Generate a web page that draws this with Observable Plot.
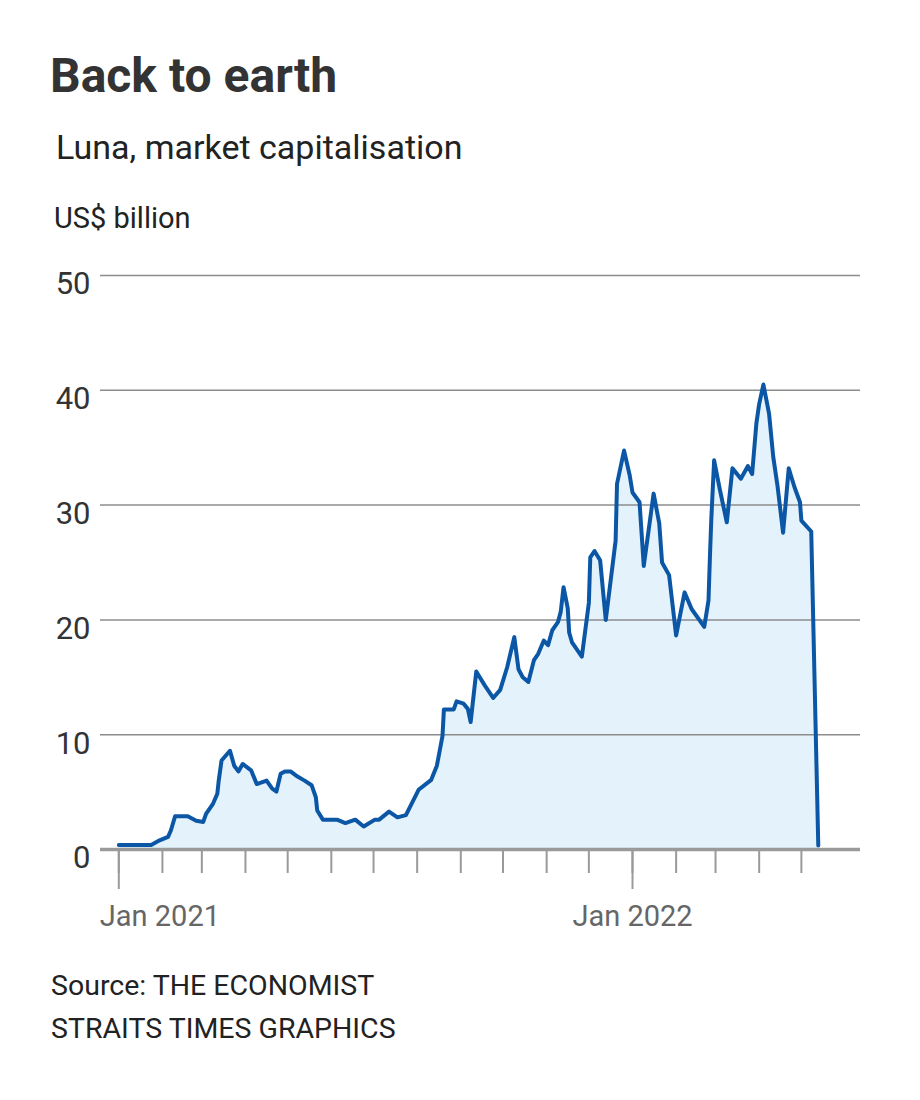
<!DOCTYPE html>
<html>
<head>
<meta charset="utf-8">
<script src="https://cdn.jsdelivr.net/npm/d3@7"></script>
<script src="https://cdn.jsdelivr.net/npm/@observablehq/plot@0.6"></script>
<style>
  html, body { margin: 0; padding: 0; background: #fff; }
  #wrap { position: relative; width: 920px; height: 1100px; font-family: Roboto, "Noto Sans", sans-serif; }
  .t { position: absolute; white-space: nowrap; line-height: 1; }
  #title { left: 50px; top: 52px; font-size: 48px; font-weight: 700; color: #333; }
  #subtitle { left: 56px; top: 130px; font-size: 34px; color: #222; }
  #unit { left: 54px; top: 204px; font-size: 29px; color: #222; }
  #chart { position: absolute; left: 0; top: 250px; }
  #source { position: absolute; left: 51px; top: 964px; font-size: 28.5px; line-height: 43px; color: #222; white-space: nowrap; }
</style>
</head>
<body>
<div id="wrap">
  <div class="t" id="title">Back to earth</div>
  <div class="t" id="subtitle">Luna, market capitalisation</div>
  <div class="t" id="unit">US$ billion</div>
  <div id="chart"></div>
  <div id="source">Source: THE ECONOMIST<br>STRAITS TIMES GRAPHICS</div>
</div>
<script>
const dates = ["2021-01-01","2021-01-24","2021-01-30","2021-02-05","2021-02-07","2021-02-10","2021-02-19","2021-02-25","2021-03-02","2021-03-04",
"2021-03-09","2021-03-12","2021-03-13","2021-03-15","2021-03-21","2021-03-24","2021-03-27","2021-03-30","2021-04-05","2021-04-09",
"2021-04-16","2021-04-20","2021-04-23","2021-04-26","2021-04-29","2021-05-03","2021-05-08","2021-05-13","2021-05-18","2021-05-21",
"2021-05-22","2021-05-26","2021-06-05","2021-06-11","2021-06-18","2021-06-24","2021-07-02","2021-07-05","2021-07-12","2021-07-18",
"2021-07-24","2021-08-02","2021-08-11","2021-08-15","2021-08-17","2021-08-19","2021-08-20","2021-08-27","2021-08-29","2021-09-03",
"2021-09-06","2021-09-08","2021-09-12","2021-09-18","2021-09-24","2021-09-29","2021-10-04","2021-10-09","2021-10-12","2021-10-15",
"2021-10-19","2021-10-23","2021-10-26","2021-10-30","2021-11-02","2021-11-05","2021-11-09","2021-11-11","2021-11-13","2021-11-16",
"2021-11-17","2021-11-19","2021-11-26","2021-12-01","2021-12-02","2021-12-05","2021-12-09","2021-12-13","2021-12-20","2021-12-21",
"2021-12-26","2021-12-30","2022-01-01","2022-01-06","2022-01-09","2022-01-16","2022-01-20","2022-01-22","2022-01-27","2022-02-01",
"2022-02-07","2022-02-12","2022-02-21","2022-02-24","2022-02-25","2022-02-26","2022-02-28","2022-03-04","2022-03-09","2022-03-13",
"2022-03-19","2022-03-24","2022-03-27","2022-03-30","2022-04-01","2022-04-04","2022-04-08","2022-04-11","2022-04-14","2022-04-18",
"2022-04-22","2022-04-26","2022-04-30","2022-05-01","2022-05-08","2022-05-13"];

const values = [0.4,0.4,0.8,1.1,1.65,2.9,2.9,2.5,2.4,3.1,
4.0,4.85,6.0,7.75,8.6,7.3,6.8,7.45,6.9,5.7,
6.0,5.3,5.05,6.6,6.8,6.8,6.35,6.0,5.6,4.55,
3.4,2.6,2.6,2.3,2.6,2.0,2.6,2.6,3.3,2.8,
3.0,5.2,6.07,7.3,8.6,9.9,12.2,12.2,12.9,12.7,
12.25,11.1,15.5,14.3,13.2,13.9,15.9,18.5,15.7,15.0,
14.6,16.5,17.05,18.2,17.8,19.1,19.8,20.7,22.85,21.0,
18.9,18.05,16.8,21.5,25.45,26.0,25.2,20.0,26.9,31.85,
34.75,32.6,31.1,30.25,24.7,31.0,28.4,25.0,23.9,18.65,
22.4,20.95,19.4,21.7,25.45,28.8,33.9,31.4,28.5,33.2,
32.3,33.4,32.7,37.1,38.8,40.5,38.0,34.2,31.7,27.6,
33.2,31.6,30.25,28.65,27.7,0.35];

const yTicks = [0, 10, 20, 30, 40, 50];
const gridTicks = [10, 20, 30, 40, 50];
const monthTicks = ["2021-01-01","2021-02-01","2021-03-01","2021-04-01","2021-05-01","2021-06-01","2021-07-01","2021-08-01","2021-09-01","2021-10-01","2021-11-01","2021-12-01","2022-01-01","2022-02-01","2022-03-01","2022-04-01","2022-05-01"];
const yearTicks = ["2021-01-01","2022-01-01"];
const yearLabels = ["Jan 2021","Jan 2022"];
const xDomain = ["2020-12-19","2022-06-12"];

const parse = d3.utcParse("%Y-%m-%d");
const data = dates.map((d, i) => ({date: parse(d), value: values[i]}));
const months = monthTicks.map(parse);
const years = yearTicks.map(parse);
const labelFor = d => yearLabels[years.findIndex(y => +y === +d)];

const chart = Plot.plot({
  width: 920,
  height: 700,
  marginLeft: 100,
  marginRight: 60,
  marginTop: 25,
  marginBottom: 101,
  style: {fontFamily: "Roboto, 'Noto Sans', sans-serif", background: "transparent", overflow: "visible"},
  x: {type: "utc", domain: xDomain.map(parse)},
  y: {domain: [0, 50]},
  marks: [
    Plot.areaY(data, {x: "date", y: "value", fill: "#e3f2fb"}),
    Plot.ruleY(gridTicks, {stroke: "#8c8c8c", strokeWidth: 1.5}),
    Plot.ruleY([0], {stroke: "#9a9a9a", strokeWidth: 3.5}),
    Plot.lineY(data, {x: "date", y: "value", stroke: "#0b57a5", strokeWidth: 4, strokeLinejoin: "round", strokeLinecap: "round"}),
    Plot.axisX(months, {tickSize: 24, tickFormat: () => "", stroke: "#9a9a9a", strokeWidth: 2, label: null}),
    Plot.axisX(years, {tickSize: 40, tickFormat: () => "", stroke: "#9a9a9a", strokeWidth: 2, label: null}),
    Plot.axisX([years[0]], {tickSize: 0, tickPadding: 56, tickFormat: labelFor, fontSize: 29, fill: "#666", textAnchor: "start", dx: -19, label: null}),
    Plot.axisX([years[1]], {tickSize: 0, tickPadding: 56, tickFormat: labelFor, fontSize: 29, fill: "#666", label: null}),
    Plot.axisY(yTicks, {tickSize: 0, tickPadding: 10, fontSize: 31, fill: "#333", dy: 9, label: null})
  ]
});
document.getElementById("chart").appendChild(chart);
</script>
</body>
</html>
